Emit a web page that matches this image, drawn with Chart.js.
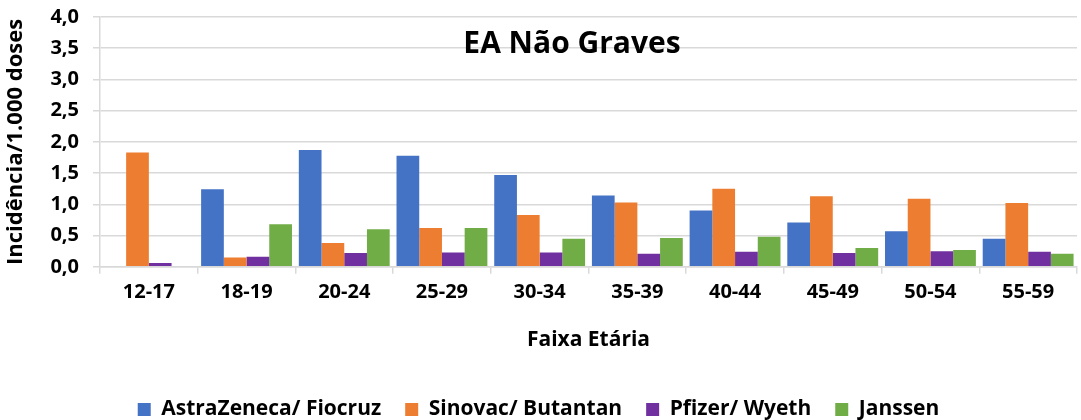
<!DOCTYPE html>
<html>
<head>
<meta charset="utf-8">
<script src="https://cdn.jsdelivr.net/npm/chart.js@4/dist/chart.umd.min.js"></script>
<style>
  html, body { margin: 0; padding: 0; background: #fff; }
  #wrap { width: 1081px; height: 420px; }
</style>
</head>
<body>
<div id="wrap"><canvas id="chart" width="1081" height="420"></canvas></div>
<script>
// faixas etárias
const faixas = ['12-17', '18-19', '20-24', '25-29', '30-34', '35-39', '40-44', '45-49', '50-54', '55-59'];

// incidência por 1.000 doses
const astrazeneca = [null, 1.24, 1.87, 1.78, 1.47, 1.14, 0.90, 0.71, 0.57, 0.45];
const sinovac     = [1.83, 0.15, 0.38, 0.62, 0.83, 1.03, 1.25, 1.13, 1.09, 1.02];
const pfizer      = [0.06, 0.16, 0.22, 0.23, 0.23, 0.21, 0.24, 0.22, 0.25, 0.24];
const janssen     = [null, 0.68, 0.60, 0.62, 0.45, 0.46, 0.48, 0.30, 0.27, 0.21];

const yTicks = [0, 0.5, 1, 1.5, 2, 2.5, 3, 3.5, 4];

const FONT = '"Open Sans", "Noto Sans", sans-serif';

// título desenhado dentro da área do gráfico
const tituloPlugin = {
    id: 'tituloInterno',
    afterDraw(chart) {
        const c = chart.ctx;
        c.save();
        c.font = 'bold 30px ' + FONT;
        c.textAlign = 'center';
        c.textBaseline = 'middle';
        c.fillStyle = '#000';
        c.fillText('EA Não Graves', 572, 44);
        c.restore();
    }
};

const ctx = document.getElementById('chart').getContext('2d');
const chart = new Chart(ctx, {
    type: 'bar',
    data: {
        labels: faixas,
        datasets: [
            { label: 'AstraZeneca/ Fiocruz', data: astrazeneca, backgroundColor: '#4472C4' },
            { label: 'Sinovac/ Butantan', data: sinovac, backgroundColor: '#ED7D31' },
            { label: 'Pfizer/ Wyeth', data: pfizer, backgroundColor: '#7030A0' },
            { label: 'Janssen', data: janssen, backgroundColor: '#70AD47' }
        ]
    },
    options: {
        responsive: false,
        animation: false,
        devicePixelRatio: 1,
        datasets: {
            bar: { categoryPercentage: 0.93, barPercentage: 1.0 }
        },
        layout: { padding: { top: 17, right: 4, bottom: -10, left: 0 } },
        plugins: {
            tooltip: { enabled: false },
            legend: {
                position: 'bottom',
                labels: {
                    color: '#000',
                    font: { family: FONT, size: 21, weight: 'bold' },
                    boxWidth: 13,
                    boxHeight: 13,
                    padding: 24
                }
            }
        },
        scales: {
            x: {
                grid: { offset: true, drawOnChartArea: false, color: '#d9d9d9', lineWidth: 1.5, tickLength: 7 },
                border: { color: '#d9d9d9', width: 1.5 },
                ticks: { color: '#000', font: { family: FONT, size: 20, weight: 'bold' }, padding: 6 },
                title: {
                    display: true,
                    text: 'Faixa Etária',
                    color: '#000',
                    font: { family: FONT, size: 21, weight: 'bold' },
                    padding: { top: 18, bottom: 22 }
                }
            },
            y: {
                min: 0,
                max: 4,
                afterBuildTicks(axis) { axis.ticks = yTicks.map(v => ({ value: v })); },
                afterFit(axis) {
                    axis.width = 100;
                    axis.paddingTop = 0;
                },
                grid: { color: '#d9d9d9', lineWidth: 1.5, tickLength: 7 },
                border: { color: '#d9d9d9', width: 1.5 },
                ticks: {
                    color: '#000',
                    font: { family: FONT, size: 20, weight: 'bold' },
                    padding: 14,
                    callback: v => v.toFixed(1).replace('.', ',')
                },
                title: {
                    display: true,
                    text: 'Incidência/1.000 doses',
                    color: '#000',
                    font: { family: FONT, size: 22, weight: 'bold' },
                    padding: { top: 3, bottom: 0 }
                }
            }
        }
    },
    plugins: [tituloPlugin]
});
</script>
</body>
</html>
